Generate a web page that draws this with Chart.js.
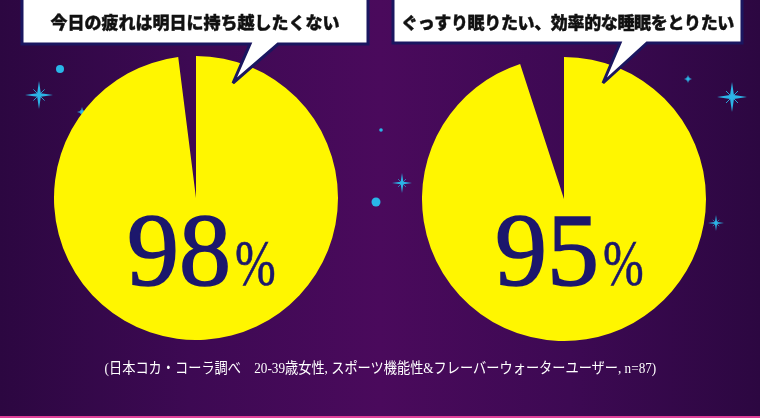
<!DOCTYPE html>
<html>
<head>
<meta charset="utf-8">
<title>疲れと睡眠の意識調査</title>
<script src="https://cdn.jsdelivr.net/npm/chart.js"></script>
<style>
  html, body { margin: 0; padding: 0; }
  body {
    width: 760px; height: 418px; overflow: hidden; position: relative;
    background: linear-gradient(to right, #2c0741 0%, #3d0953 25%, #4a0a5c 50%, #3d0953 75%, #2c0741 100%);
  }
  #bottom-line { position: absolute; left: 0; top: 416px; width: 760px; height: 2px; background: #e0409a; }
  svg.layer { position: absolute; left: 0; top: 0; }
  .pie { position: absolute; width: 284px; height: 284px; }
  .bubble-text {
    position: absolute; top: 9px; height: 26px; line-height: 26px; text-align: center;
    font-family: "Noto Sans CJK JP", sans-serif; font-weight: 900; font-size: 17px; color: #111;
    -webkit-text-stroke: 0.4px #111;
    white-space: nowrap;
  }
  .percent {
    position: absolute; top: 198px; line-height: 104px; white-space: nowrap;
    font-family: "Liberation Serif", serif; color: #1c176c;
    -webkit-text-stroke: 1.6px #1c176c;
  }
  .percent .num { font-size: 104px; }
  .percent .sign {
    font-size: 66px; display: inline-block; margin-left: 4px;
    transform: scaleX(0.74); transform-origin: left; -webkit-text-stroke: 0.6px #1c176c;
  }
  #note {
    position: absolute; left: 0; width: 760px; top: 356px; text-align: center;
    color: #fff; white-space: nowrap;
  }
  #note span {
    display: inline-block; transform: scaleX(0.88); transform-origin: center;
    font-family: "Liberation Serif", "Noto Sans CJK JP", serif; font-size: 15px;
  }
</style>
</head>
<body>
<div id="bottom-line"></div>

<!-- sparkles behind the pies -->
<svg class="layer" id="stars" width="760" height="418"></svg>

<div class="pie" style="left:54px; top:56px;"><canvas id="pie0" width="284" height="284"></canvas></div>
<div class="pie" style="left:422px; top:57px;"><canvas id="pie1" width="284" height="284"></canvas></div>

<div class="percent" id="pct0" style="left:127px;"></div>
<div class="percent" id="pct1" style="left:495px;"></div>

<!-- speech bubbles -->
<svg class="layer" width="760" height="418">
  <path d="M22,-5 L368,-5 L368,44 L278,44 L233,83 L250,44 L22,44 Z" fill="#fff" stroke="#1a1660" stroke-width="3" stroke-linejoin="miter"/>
  <path d="M393,-5 L742,-5 L742,43 L647,43 L603,83 L620,43 L393,43 Z" fill="#fff" stroke="#1a1660" stroke-width="3" stroke-linejoin="miter"/>
</svg>
<div class="bubble-text" id="q0" style="left:22px; width:346px;"></div>
<div class="bubble-text" id="q1" style="left:393px; width:349px; letter-spacing:-0.35px;"></div>

<div id="note"><span></span></div>

<script>
// survey answers
const questions = ['今日の疲れは明日に持ち越したくない', 'ぐっすり眠りたい、効率的な睡眠をとりたい'];
const agreePercent = [98, 95];
const otherPercent = [2, 5];
const footnote = '(日本コカ・コーラ調べ　20-39歳女性, スポーツ機能性&フレーバーウォーターユーザー, n=87)';

// decoration: [x, y, arm length]
const sparkles = [[39, 95, 14], [82, 112, 5], [402, 183, 10], [732, 97, 15], [716, 223, 8], [688, 79, 4]];
const dots = [[60, 69, 4], [376, 202, 4.5], [381, 130, 1.8]];

const stars = document.getElementById('stars');
const ns = 'http://www.w3.org/2000/svg';
sparkles.forEach(([x, y, L]) => {
  const w = Math.max(L * 0.13, 1);
  const d = L * 0.4;
  const p = document.createElementNS(ns, 'path');
  p.setAttribute('d',
    `M${x},${y - L} L${x + w},${y - w} L${x + L},${y} L${x + w},${y + w} L${x},${y + L} L${x - w},${y + w} L${x - L},${y} L${x - w},${y - w} Z`);
  p.setAttribute('fill', '#2cb4e6');
  stars.appendChild(p);
  const q = document.createElementNS(ns, 'path');
  q.setAttribute('d',
    `M${x - d},${y - d} L${x + d},${y + d} M${x + d},${y - d} L${x - d},${y + d}`);
  q.setAttribute('stroke', '#2cb4e6');
  q.setAttribute('stroke-width', Math.max(L * 0.06, 0.6));
  stars.appendChild(q);
});
dots.forEach(([x, y, r]) => {
  const c = document.createElementNS(ns, 'circle');
  c.setAttribute('cx', x); c.setAttribute('cy', y); c.setAttribute('r', r);
  c.setAttribute('fill', '#29b6e8');
  stars.appendChild(c);
});

questions.forEach((q, i) => {
  document.getElementById('q' + i).textContent = q;
  document.getElementById('pct' + i).innerHTML =
    '<span class="num">' + agreePercent[i] + '</span><span class="sign">%</span>';

  new Chart(document.getElementById('pie' + i), {
    type: 'pie',
    data: {
      labels: ['はい', 'その他'],
      datasets: [{
        data: [agreePercent[i], otherPercent[i]],
        backgroundColor: ['#fff600', 'rgba(0,0,0,0)'],
        borderWidth: 0
      }]
    },
    options: {
      responsive: false,
      animation: false,
      layout: { padding: 0 },
      plugins: {
        legend: { display: false },
        tooltip: { enabled: false }
      }
    }
  });
});

document.querySelector('#note span').textContent = footnote;
</script>
</body>
</html>
